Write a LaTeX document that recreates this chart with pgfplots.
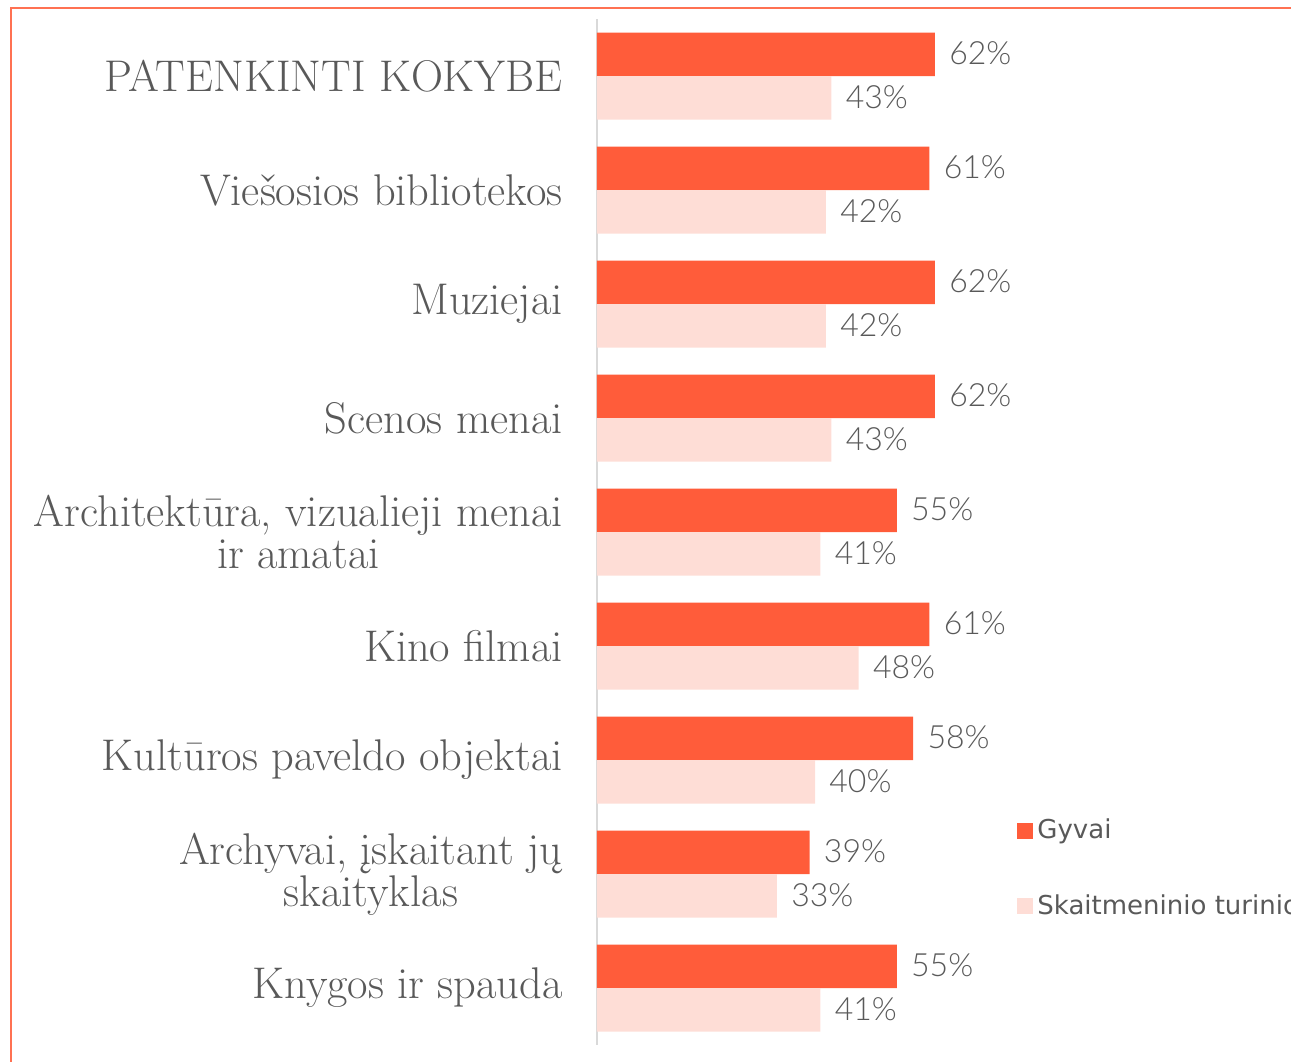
\documentclass[border=0pt]{standalone}
\usepackage{fontspec}
\usepackage{pgfplots}
\pgfplotsset{compat=1.18}
\newfontfamily\valfont{Lato Light}
\newfontfamily\legfont{DejaVu Sans}
\definecolor{Live}{HTML}{FF5C3A}
\definecolor{Digital}{HTML}{FEDDD6}
\definecolor{Txt}{HTML}{595959}
\definecolor{Frame}{HTML}{FF7152}
\definecolor{AxisGray}{HTML}{D9D9D9}

\begin{document}
\begin{tikzpicture}
% picture is 1291 x 1061 px, 1 px = 0.5pt, origin at top left
\useasboundingbox (0pt,0pt) rectangle (645.5pt,-530.5pt);
\clip (0pt,0pt) rectangle (645.5pt,-530.5pt);
\draw[Frame, line width=1pt] (5.25pt,-540pt) -- (5.25pt,-4pt) -- (660pt,-4pt);
\begin{axis}[
  at={(298.5pt,-522.5pt)}, anchor=south west,
  x=2.725pt, y=57pt, y dir=reverse,
  xmin=0, xmax=100, ymin=-0.5, ymax=8.5,
  clip=false,
  xbar, bar width=0.3816,
  axis x line=none, axis y line=left,
  y axis line style={-, draw=AxisGray, line width=1pt},
  ytick={0,...,8},
  yticklabels={{PATENKINTI KOKYBE},{Viešosios bibliotekos},{Muziejai},{Scenos menai},
    {Architektūra, vizualieji menai\\ir amatai},{Kino filmai},{Kultūros paveldo objektai},
    {Archyvai, įskaitant jų\\skaityklas},{Knygos ir spauda}},
  major tick length=0pt, ytick style={draw=none},
  yticklabel style={font=\fontsize{22.2}{21}\selectfont, text=Txt, align=center,
    anchor=east, inner sep=0pt, xshift=-17pt},
  point meta=x,
  nodes near coords={\pgfmathprintnumber[assume math mode=true]{\pgfplotspointmeta}\%},
  every node near coord/.append style={font=\valfont\fontsize{16}{18}\selectfont,
    text=Txt, anchor=west, inner sep=0pt, xshift=7pt, yshift=0.5pt},
  legend style={at={(0.7706,0.2244)}, anchor=north west, draw=none, fill=none,
    inner sep=0pt, font=\legfont\fontsize{13}{15.6}\selectfont, text=Txt,
    row sep=22.5pt},
  legend cell align=left,
  legend image code/.code={\fill[#1] (0pt,-4pt) rectangle (8pt,4pt);},
]
\addplot[fill=Live, draw=none, bar shift=-0.1908] coordinates {
  (62,0) (61,1) (62,2) (62,3) (55,4) (61,5) (58,6) (39,7) (55,8)};
\addlegendentry{Gyvai}
\addplot[fill=Digital, draw=none, bar shift=0.1908] coordinates {
  (43,0) (42,1) (42,2) (43,3) (41,4) (48,5) (40,6) (33,7) (41,8)};
\addlegendentry{Skaitmeninio turinio}
\end{axis}
\end{tikzpicture}
\end{document}
